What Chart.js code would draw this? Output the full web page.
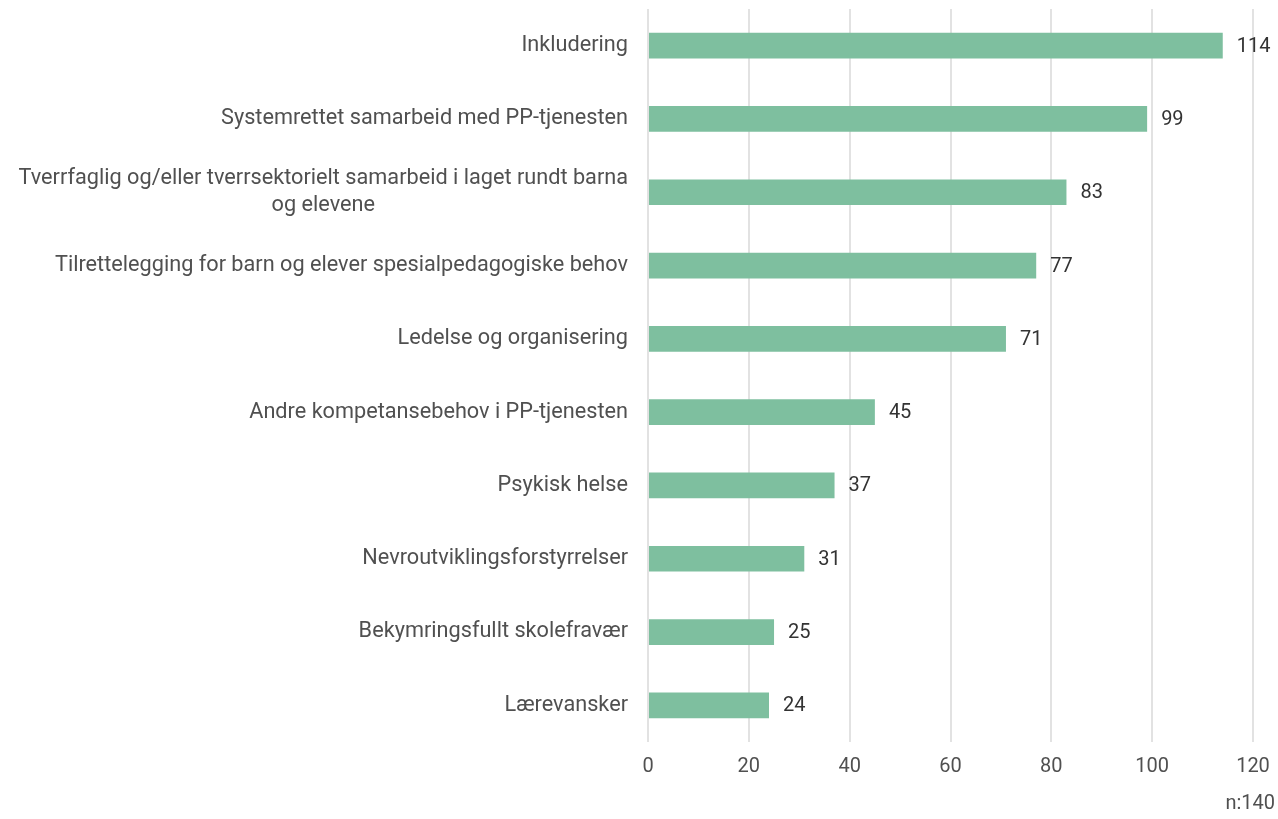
<!DOCTYPE html>
<html>
<head>
<meta charset="utf-8">
<script src="https://cdn.jsdelivr.net/npm/chart.js@4"></script>
<style>
  body { margin: 0; background: #fff; }
  #wrap { width: 1278px; height: 819px; }
</style>
</head>
<body>
<div id="wrap"><canvas id="chart"></canvas></div>
<script>
const categories = [
  'Inkludering',
  'Systemrettet samarbeid med PP-tjenesten',
  ['Tverrfaglig og/eller tverrsektorielt samarbeid i laget rundt barna', 'og elevene'],
  'Tilrettelegging for barn og elever spesialpedagogiske behov',
  'Ledelse og organisering',
  'Andre kompetansebehov i PP-tjenesten',
  'Psykisk helse',
  'Nevroutviklingsforstyrrelser',
  'Bekymringsfullt skolefravær',
  'Lærevansker'
]
const values = [114, 99, 83, 77, 71, 45, 37, 31, 25, 24]
const xTicks = [0, 20, 40, 60, 80, 100, 120]
const noteText = 'n:140'

const FONT = 'Roboto, "Noto Sans", sans-serif'
const BAR_COLOR = '#7ebf9f'

// labels at the end of each bar
const valueLabels = {
  id: 'valueLabels',
  afterDatasetsDraw(chart) {
    const ctx = chart.ctx
    const meta = chart.getDatasetMeta(0)
    ctx.save()
    ctx.font = '20px ' + FONT
    ctx.fillStyle = '#333'
    ctx.textAlign = 'left'
    ctx.textBaseline = 'middle'
    meta.data.forEach((bar, i) => {
      ctx.fillText(String(values[i]), bar.x + 14, bar.y + 1)
    })
    ctx.restore()
  }
}

// category labels, right aligned, wrapped lines centered on each other
const categoryLabels = {
  id: 'categoryLabels',
  afterDraw(chart) {
    const ctx = chart.ctx
    const yScale = chart.scales.y
    const right = chart.chartArea.left - 20
    const lineH = 27
    ctx.save()
    ctx.font = '21.7px ' + FONT
    ctx.fillStyle = '#505050'
    ctx.textBaseline = 'middle'
    categories.forEach((label, i) => {
      const y = yScale.getPixelForValue(i)
      if (Array.isArray(label)) {
        const w = Math.max(...label.map(l => ctx.measureText(l).width))
        const cx = right - w / 2
        ctx.textAlign = 'center'
        label.forEach((line, j) => {
          ctx.fillText(line, cx, y + (j - (label.length - 1) / 2) * lineH)
        })
      } else {
        ctx.textAlign = 'right'
        ctx.fillText(label, right, y)
      }
    })
    ctx.restore()
  }
}

new Chart(document.getElementById('chart'), {
  type: 'bar',
  data: {
    labels: categories,
    datasets: [{
      data: values,
      backgroundColor: BAR_COLOR,
      barPercentage: 0.35,
      categoryPercentage: 1
    }]
  },
  options: {
    indexAxis: 'y',
    responsive: true,
    maintainAspectRatio: false,
    animation: false,
    layout: { padding: { top: 9, right: 3, bottom: 3, left: 0 } },
    plugins: {
      legend: { display: false },
      tooltip: { enabled: false },
      title: {
        display: true,
        text: noteText,
        position: 'bottom',
        align: 'end',
        color: '#505050',
        font: { family: FONT, size: 20, weight: 'normal' },
        padding: { top: 0, bottom: 0 }
      }
    },
    scales: {
      x: {
        min: 0,
        max: 120,
        afterBuildTicks: (scale) => { scale.ticks = xTicks.map(v => ({ value: v })) },
        afterFit: (scale) => { scale.paddingRight = 25; scale.paddingLeft = 0 },
        grid: { color: '#e2e2e2', lineWidth: 2, drawTicks: false },
        border: { display: false },
        ticks: {
          color: '#505050',
          padding: 13,
          font: { family: FONT, size: 20 }
        }
      },
      y: {
        grid: { display: false },
        border: { display: false },
        ticks: { display: false },
        afterFit: (scale) => { scale.width = 648 }
      }
    }
  },
  plugins: [valueLabels, categoryLabels]
})
</script>
</body>
</html>
